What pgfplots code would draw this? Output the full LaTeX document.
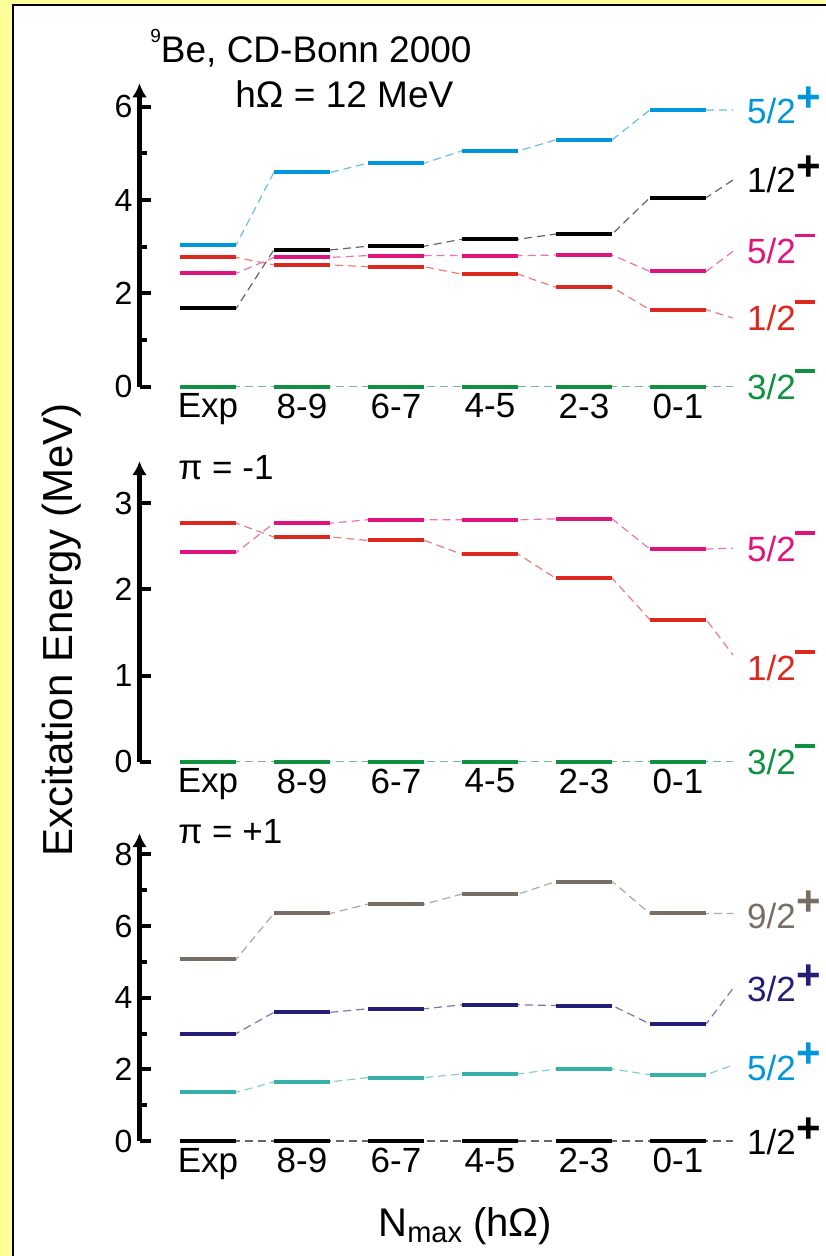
\documentclass[border=0pt]{standalone}
\usepackage{fontspec}
\setmainfont{Liberation Sans}
\usepackage{pgfplots}
\usepackage{pgfplotstable}
\pgfplotsset{compat=1.18}
\usetikzlibrary{arrows.meta}

\definecolor{cbg}{HTML}{FFFF99}
\definecolor{cblue}{RGB}{0,150,220}
\definecolor{cred}{RGB}{220,40,30}
\definecolor{cmag}{RGB}{225,20,125}
\definecolor{cgreen}{RGB}{16,145,65}
\definecolor{cgray}{RGB}{120,110,102}
\definecolor{cteal}{RGB}{55,175,170}
\definecolor{cnavy}{RGB}{35,30,120}

% ---- level energies (MeV), one row per Nmax column: Exp, 8-9, 6-7, 4-5, 2-3, 0-1
\pgfplotstableread{
x bp52 bp12 m52 m12 m32
0 3.04 1.68 2.43 2.77 0
1 4.59 2.93 2.77 2.61 0
2 4.79 3.01 2.81 2.57 0
3 5.05 3.16 2.81 2.41 0
4 5.29 3.27 2.82 2.13 0
5 5.93 4.05 2.47 1.65 0
}\levA
% connector lines (bar ends and label end)
\pgfplotstableread{
x bp52 bp12 m52 m12 m32
-0.3 3.04 1.68 2.43 2.77 0
0.3 3.04 1.68 2.43 2.77 0
0.7 4.59 2.93 2.77 2.61 0
1.3 4.59 2.93 2.77 2.61 0
1.7 4.79 3.01 2.81 2.57 0
2.3 4.79 3.01 2.81 2.57 0
2.7 5.05 3.16 2.81 2.41 0
3.3 5.05 3.16 2.81 2.41 0
3.7 5.29 3.27 2.82 2.13 0
4.3 5.29 3.27 2.82 2.13 0
4.7 5.93 4.05 2.47 1.65 0
5.3 5.93 4.05 2.47 1.65 0
5.585 5.93 4.43 2.90 1.47 0
}\conA
\pgfplotstableread{
x m52 m12 m32
-0.3 2.43 2.77 0
0.3 2.43 2.77 0
0.7 2.77 2.61 0
1.3 2.77 2.61 0
1.7 2.81 2.57 0
2.3 2.81 2.57 0
2.7 2.81 2.41 0
3.3 2.81 2.41 0
3.7 2.82 2.13 0
4.3 2.82 2.13 0
4.7 2.47 1.65 0
5.3 2.47 1.65 0
5.585 2.48 1.24 0
}\conB
\pgfplotstableread{
x p92 p32 p52 p12
0 5.07 3.00 1.36 0
1 6.35 3.59 1.65 0
2 6.61 3.69 1.77 0
3 6.89 3.80 1.87 0
4 7.24 3.78 2.01 0
5 6.35 3.27 1.85 0
}\levC
\pgfplotstableread{
x p92 p32 p52 p12
-0.3 5.07 3.00 1.36 0
0.3 5.07 3.00 1.36 0
0.7 6.35 3.59 1.65 0
1.3 6.35 3.59 1.65 0
1.7 6.61 3.69 1.77 0
2.3 6.61 3.69 1.77 0
2.7 6.89 3.80 1.87 0
3.3 6.89 3.80 1.87 0
3.7 7.24 3.78 2.01 0
4.3 7.24 3.78 2.01 0
4.7 6.35 3.27 1.85 0
5.3 6.35 3.27 1.85 0
5.585 6.35 4.26 2.12 0
}\conC

\newcommand{\tickfont}{\fontsize{16}{18}\selectfont}
\newcommand{\catfont}{\fontsize{17.5}{20}\selectfont}
\newcommand{\lblfont}{\fontsize{17.5}{20}\selectfont}
\newcommand{\sP}{\kern0.2pt\raisebox{6.2pt}{\fontsize{21}{21}\selectfont\bfseries +}}
\newcommand{\sM}{\kern-0.3pt\raisebox{13.3pt}{\rule{10pt}{1.8pt}}}

\newcommand{\level}[4]{%
  \addplot[color=#1!60!white, line width=0.6pt, dash pattern=on 4pt off 2.5pt] table[x=x,y=#2]{#4};
  \addplot[color=#1, only marks, mark=-, mark size=14pt, mark options={line width=2pt}] table[x=x,y=#2]{#3};
}
\newcommand{\lab}[3]{%
  \node[anchor=base west, inner sep=0pt, text=#1, font=\lblfont, yshift=-6.25pt] at (axis cs:5.73,#2) {#3};
}

\pgfplotsset{
  lvl/.style={
    scale only axis, clip=false,
    axis y line=left, axis x line=bottom,
    x axis line style={draw=none},
    y axis line style={line width=2.2pt, -{Latex[length=7pt,width=7.5pt]}},
    xmin=-0.729, xmax=6.5, ymin=0,
    width=339.76pt,
    xtick={0,...,5}, xticklabels={Exp,8-9,6-7,4-5,2-3,0-1},
    xtick style={draw=none},
    ytick style={line width=2pt, black},
    tick align=inside,
    major tick length=5.6pt, minor tick length=3.6pt,
    yticklabel style={font=\tickfont, text=black},
    xticklabel style={font=\catfont, text=black},
    /pgf/number format/assume math mode=true,
    anchor=south west,
  }
}

\begin{document}
\begin{tikzpicture}
\useasboundingbox (0,0) rectangle (412.5pt,628pt);
\fill[cbg] (0,0) rectangle (412.5pt,628pt);
\filldraw[fill=white, draw=black, line width=1pt] (6.25pt,-10pt) rectangle (430pt,625.25pt);

% ---------- panel 1
\begin{axis}[lvl, at={(69.75pt,434.65pt)}, height=151.67pt, ymax=6.5,
  ytick={0,2,4,6}, minor ytick={1,3,5}]
  \level{cgreen}{m32}{\levA}{\conA}
  \level{cred}{m12}{\levA}{\conA}
  \level{cmag}{m52}{\levA}{\conA}
  \level{black}{bp12}{\levA}{\conA}
  \level{cblue}{bp52}{\levA}{\conA}
  \lab{cblue}{5.90}{5/2\sP}
  \lab{black}{4.43}{1/2\sP}
  \lab{cmag}{2.90}{5/2\sM}
  \lab{cred}{1.47}{1/2\sM}
  \lab{cgreen}{0.0}{3/2\sM}
\end{axis}

% ---------- panel 2
\begin{axis}[lvl, at={(69.75pt,247.15pt)}, height=150.24pt, ymax=3.49,
  ytick={0,1,2,3}]
  \level{cgreen}{m32}{\levA}{\conB}
  \level{cred}{m12}{\levA}{\conB}
  \level{cmag}{m52}{\levA}{\conB}
  \lab{cmag}{2.47}{5/2\sM}
  \lab{cred}{1.09}{1/2\sM}
  \lab{cgreen}{0.0}{3/2\sM}
\end{axis}

% ---------- panel 3
\begin{axis}[lvl, at={(69.75pt,57.5pt)}, height=153.9pt, ymax=8.59,
  ytick={0,2,4,6,8}, minor ytick={1,3,5,7}]
  \level{black}{p12}{\levC}{\conC}
  \level{cteal}{p52}{\levC}{\conC}
  \level{cnavy}{p32}{\levC}{\conC}
  \level{cgray}{p92}{\levC}{\conC}
  \lab{cgray}{6.29}{9/2\sP}
  \lab{cnavy}{4.24}{3/2\sP}
  \lab{cblue}{2.05}{5/2\sP}
  \lab{black}{-0.04}{1/2\sP}
\end{axis}

% ---------- texts
\node[anchor=base west, inner sep=0pt, font=\fontsize{18.5}{22}\selectfont] at (75pt,596.5pt)
  {\raisebox{10pt}{\fontsize{9.5}{10}\selectfont 9}Be, CD-Bonn 2000};
\node[anchor=base west, inner sep=0pt, font=\fontsize{18.5}{22}\selectfont] at (117.5pt,574pt)
  {hΩ = 12 MeV};
\node[anchor=base west, inner sep=0pt, font=\fontsize{17.5}{20}\selectfont] at (89pt,388pt) {π = -1};
\node[anchor=base west, inner sep=0pt, font=\fontsize{17.5}{20}\selectfont] at (89pt,206.35pt) {π = +1};
\node[rotate=90, inner sep=0pt, font=\fontsize{21}{24}\selectfont] at (31pt,313pt) {Excitation Energy (MeV)};
\node[anchor=base west, inner sep=0pt, font=\fontsize{20}{24}\selectfont] at (189pt,9.65pt)
  {N\raisebox{-3pt}{\fontsize{14.5}{16}\selectfont max} (hΩ)};
\end{tikzpicture}
\end{document}
